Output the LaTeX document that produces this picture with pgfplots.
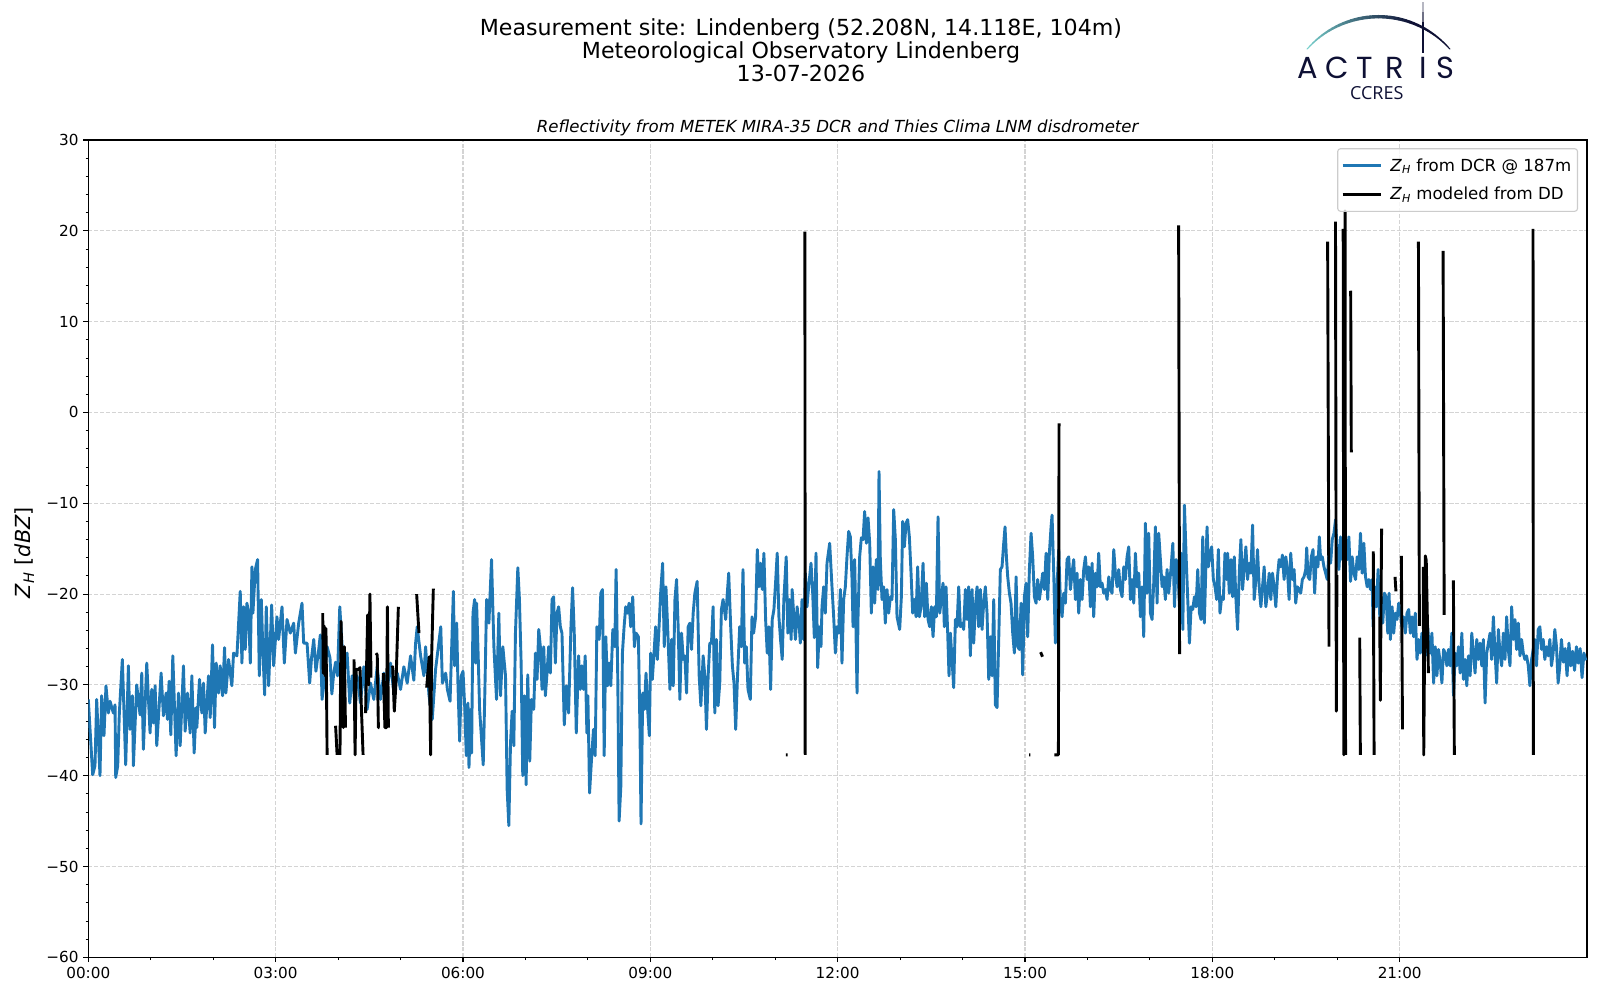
\documentclass[border=0pt]{standalone}
\usepackage{fontspec}
\setmainfont{DejaVu Sans}
\newfontfamily\logofont{Poppins}
\newfontfamily\ccresfont{Open Sans}
\usepackage{pgfplots}
\pgfplotsset{compat=1.18}
\usepackage{pgfplotstable}
\definecolor{mplblue}{RGB}{31,119,180}
\definecolor{gridgray}{RGB}{212,212,212}
\definecolor{logonavy}{RGB}{14,16,52}
\definecolor{logoteal}{RGB}{120,208,204}
\definecolor{legframe}{RGB}{204,204,204}

\pgfplotstableread{
h v
0 -31.6
0.07 -39.9
0.107 -38.9
0.134 -31.6
0.187 -40.0
0.214 -31.2
0.251 -35.6
0.283 -30.1
0.321 -33.1
0.348 -31.8
0.401 -33.1
0.428 -32.2
0.439 -40.2
0.471 -38.9
0.497 -33.1
0.545 -27.2
0.599 -38.8
0.642 -27.9
0.668 -34.9
0.706 -31.2
0.722 -38.9
0.775 -30.0
0.829 -33.3
0.856 -28.7
0.882 -37.1
0.936 -27.6
0.989 -35.3
1.016 -30.5
1.043 -34.2
1.07 -30.1
1.096 -36.7
1.166 -28.7
1.203 -33.4
1.246 -30.9
1.267 -33.8
1.294 -29.6
1.321 -35.5
1.353 -26.8
1.406 -37.8
1.444 -30.9
1.471 -36.7
1.524 -27.9
1.551 -35.1
1.588 -30.9
1.631 -35.3
1.658 -29.0
1.695 -37.5
1.727 -32.5
1.738 -34.7
1.781 -29.4
1.818 -33.1
1.845 -29.8
1.872 -35.3
1.925 -29.0
1.952 -33.6
1.989 -25.6
2.021 -34.7
2.048 -27.6
2.086 -30.9
2.112 -27.9
2.15 -31.2
2.182 -25.9
2.203 -30.9
2.246 -27.2
2.299 -30.1
2.326 -26.5
2.38 -26.8
2.433 -19.7
2.46 -27.6
2.487 -21.4
2.513 -26.1
2.54 -21.0
2.567 -22.1
2.594 -27.6
2.62 -17.0
2.636 -22.1
2.674 -17.3
2.711 -16.2
2.738 -29.0
2.77 -20.6
2.797 -26.5
2.824 -31.1
2.85 -21.4
2.888 -30.1
2.936 -21.2
2.968 -27.9
3.021 -22.5
3.048 -25.0
3.102 -21.4
3.139 -27.6
3.182 -22.8
3.235 -24.3
3.289 -23.2
3.316 -26.5
3.369 -23.2
3.422 -21.0
3.449 -25.4
3.503 -25.4
3.545 -29.8
3.575 -27.0
3.61 -25.0
3.645 -28.5
3.69 -26.1
3.715 -24.5
3.743 -31.6
3.78 -29.5
3.824 -25.8
3.87 -27.0
3.90 -31.0
3.93 -28.7
3.96 -27.5
3.99 -29.0
4.027 -21.4
4.091 -28.7
4.144 -26.5
4.187 -32.0
4.225 -29.0
4.262 -31.2
4.305 -29.0
4.358 -32.0
4.412 -28.0
4.465 -32.7
4.519 -29.8
4.572 -31.6
4.626 -28.0
4.679 -31.6
4.733 -28.7
4.786 -30.5
4.84 -27.6
4.893 -30.9
4.947 -28.7
5.0 -30.5
5.053 -28.0
5.107 -29.8
5.16 -26.8
5.213 -29.5
5.24 -25.5
5.267 -23.6
5.321 -26.8
5.374 -29.0
5.401 -25.8
5.455 -31.1
5.508 -33.8
5.561 -28.3
5.644 -23.6
5.67 -29.8
5.723 -28.7
5.75 -30.5
5.793 -31.8
5.846 -19.7
5.867 -27.9
5.899 -23.2
5.92 -30.1
5.947 -36.2
5.973 -29.0
6.0 -28.5
6.027 -32.3
6.053 -37.8
6.08 -32.0
6.096 -39.1
6.122 -32.7
6.138 -37.5
6.16 -22.1
6.186 -20.6
6.202 -27.6
6.218 -21.0
6.245 -27.2
6.266 -32.7
6.324 -38.8
6.351 -30.5
6.378 -20.6
6.415 -23.2
6.457 -16.2
6.495 -25.8
6.537 -31.6
6.574 -22.1
6.601 -31.2
6.638 -25.8
6.681 -29.0
6.707 -41.5
6.734 -45.5
6.761 -36.4
6.787 -32.9
6.814 -36.7
6.84 -24.3
6.878 -17.1
6.904 -20.6
6.931 -27.6
6.957 -40.0
6.984 -31.2
7.011 -41.0
7.037 -28.9
7.069 -38.4
7.096 -31.6
7.133 -32.7
7.16 -26.5
7.186 -29.4
7.213 -23.9
7.239 -25.8
7.266 -30.5
7.293 -25.8
7.319 -31.2
7.346 -28.7
7.372 -25.8
7.399 -28.7
7.426 -20.6
7.452 -20.3
7.479 -27.6
7.505 -22.1
7.532 -21.4
7.559 -23.6
7.585 -24.3
7.622 -34.4
7.654 -30.1
7.691 -33.1
7.729 -23.6
7.755 -19.3
7.782 -24.3
7.814 -35.3
7.851 -26.8
7.878 -30.5
7.904 -27.9
7.931 -30.5
7.957 -26.8
7.984 -35.3
8.0 -31.2
8.027 -41.9
8.064 -37.5
8.09 -34.9
8.117 -37.8
8.144 -23.6
8.181 -25.0
8.207 -19.9
8.234 -19.5
8.261 -37.8
8.287 -24.7
8.314 -30.1
8.34 -27.6
8.367 -30.1
8.399 -23.9
8.431 -25.8
8.452 -17.3
8.479 -29.4
8.5 -45.0
8.527 -41.3
8.553 -26.5
8.58 -23.6
8.606 -21.4
8.633 -22.1
8.66 -21.0
8.686 -23.6
8.718 -20.3
8.745 -25.8
8.771 -24.3
8.809 -24.7
8.835 -35.3
8.851 -45.3
8.878 -30.9
8.904 -32.7
8.931 -28.7
8.957 -32.7
8.984 -35.6
9.005 -26.5
9.032 -29.4
9.059 -26.5
9.085 -23.6
9.112 -27.2
9.138 -23.9
9.165 -19.9
9.197 -16.6
9.223 -25.8
9.25 -19.2
9.277 -23.6
9.314 -30.5
9.34 -25.0
9.367 -30.1
9.394 -20.6
9.42 -18.4
9.447 -23.9
9.473 -31.6
9.5 -24.3
9.527 -27.2
9.553 -26.8
9.58 -30.9
9.606 -23.6
9.633 -23.2
9.66 -26.1
9.686 -22.1
9.713 -19.9
9.75 -18.6
9.782 -29.0
9.809 -32.3
9.846 -26.8
9.872 -29.0
9.899 -34.9
9.926 -29.0
9.952 -25.4
9.979 -25.4
10.005 -21.4
10.032 -33.1
10.059 -25.0
10.085 -32.3
10.112 -29.8
10.138 -21.7
10.165 -20.6
10.207 -22.8
10.229 -20.3
10.255 -17.7
10.287 -23.6
10.314 -27.9
10.34 -29.8
10.367 -34.9
10.394 -29.4
10.431 -23.6
10.457 -25.8
10.484 -17.3
10.511 -27.6
10.537 -25.8
10.564 -30.5
10.601 -31.6
10.628 -22.5
10.654 -24.3
10.686 -22.5
10.713 -15.1
10.739 -19.2
10.766 -16.6
10.793 -19.5
10.819 -15.5
10.846 -22.8
10.872 -26.5
10.899 -23.6
10.926 -30.5
10.952 -22.8
10.979 -21.7
11.005 -18.8
11.032 -15.5
11.059 -22.5
11.085 -25.0
11.112 -27.2
11.138 -20.6
11.176 -15.9
11.202 -24.3
11.229 -20.6
11.255 -25.0
11.271 -19.5
11.298 -22.5
11.324 -25.0
11.351 -21.4
11.388 -23.9
11.402 -25.4
11.429 -20.6
11.455 -25.0
11.482 -17.7
11.509 -21.4
11.535 -19.2
11.573 -16.6
11.6 -19.9
11.626 -24.8
11.653 -15.5
11.68 -28.1
11.706 -23.6
11.733 -25.8
11.749 -21.4
11.776 -19.2
11.802 -22.1
11.829 -16.6
11.872 -14.4
11.909 -19.2
11.936 -22.5
11.963 -26.5
11.989 -23.6
12.016 -24.3
12.043 -19.5
12.069 -27.6
12.096 -20.6
12.123 -19.2
12.149 -15.9
12.176 -13.1
12.203 -13.7
12.23 -18.4
12.246 -23.6
12.272 -16.2
12.294 -24.3
12.31 -30.9
12.326 -22.5
12.352 -15.9
12.379 -13.8
12.406 -14.0
12.432 -10.9
12.459 -14.4
12.486 -11.6
12.513 -14.4
12.539 -22.1
12.566 -17.0
12.593 -21.0
12.619 -16.2
12.646 -19.5
12.662 -6.5
12.683 -16.2
12.71 -20.6
12.737 -19.2
12.763 -23.2
12.79 -19.5
12.817 -22.1
12.844 -20.3
12.87 -20.6
12.897 -10.7
12.924 -14.0
12.95 -22.5
12.993 -23.9
13.02 -20.3
13.041 -12.0
13.068 -14.8
13.095 -12.2
13.121 -11.8
13.148 -13.7
13.175 -17.7
13.201 -22.1
13.228 -20.6
13.255 -22.5
13.281 -17.0
13.308 -22.5
13.335 -21.4
13.367 -16.6
13.393 -22.5
13.42 -18.8
13.447 -22.8
13.474 -23.6
13.5 -21.4
13.527 -24.7
13.554 -21.4
13.58 -22.5
13.607 -11.5
13.634 -22.1
13.66 -20.6
13.687 -18.8
13.708 -23.6
13.735 -19.2
13.762 -24.3
13.783 -29.0
13.805 -24.3
13.831 -27.2
13.858 -30.3
13.885 -22.8
13.911 -23.6
13.938 -19.2
13.965 -23.6
13.991 -23.2
14.018 -23.9
14.045 -19.5
14.072 -22.8
14.098 -19.2
14.125 -26.8
14.152 -19.5
14.178 -25.4
14.205 -21.4
14.232 -19.2
14.258 -23.6
14.285 -19.5
14.312 -23.9
14.338 -21.0
14.365 -19.2
14.392 -22.1
14.419 -29.4
14.445 -24.7
14.472 -29.0
14.499 -20.6
14.525 -32.2
14.552 -32.5
14.579 -25.0
14.605 -17.3
14.632 -17.0
14.659 -14.4
14.68 -12.6
14.702 -15.9
14.723 -18.1
14.75 -19.9
14.776 -21.0
14.803 -24.3
14.83 -26.5
14.857 -18.1
14.883 -25.8
14.91 -26.1
14.937 -21.0
14.963 -28.9
14.99 -20.3
15.017 -18.8
15.043 -24.7
15.07 -17.3
15.097 -13.3
15.123 -15.9
15.15 -20.3
15.177 -21.0
15.203 -18.4
15.23 -20.6
15.257 -19.2
15.283 -17.7
15.31 -19.5
15.337 -15.5
15.364 -20.6
15.39 -15.5
15.417 -12.6
15.433 -11.3
15.46 -17.7
15.486 -25.4
15.513 -19.2
15.54 -15.1
15.566 -20.6
15.593 -22.5
15.62 -19.9
15.647 -21.0
15.673 -16.2
15.7 -15.9
15.727 -19.5
15.753 -17.7
15.78 -16.2
15.807 -20.6
15.833 -17.7
15.86 -22.1
15.887 -18.4
15.914 -20.6
15.94 -17.3
15.967 -15.9
15.994 -18.4
16.02 -17.0
16.047 -21.4
16.074 -16.6
16.1 -22.5
16.127 -17.7
16.154 -19.2
16.18 -15.5
16.207 -19.2
16.234 -18.8
16.26 -19.9
16.287 -19.5
16.314 -20.6
16.341 -18.1
16.367 -19.5
16.394 -19.9
16.421 -15.1
16.447 -17.7
16.474 -19.2
16.501 -17.3
16.527 -19.5
16.554 -20.3
16.581 -17.0
16.607 -18.4
16.634 -15.9
16.661 -14.8
16.688 -20.6
16.714 -18.4
16.741 -21.0
16.768 -15.5
16.794 -19.2
16.821 -17.7
16.848 -22.5
16.874 -19.2
16.901 -24.7
16.928 -12.2
16.955 -19.9
16.981 -13.3
17.008 -22.1
17.035 -22.8
17.061 -18.8
17.088 -12.6
17.115 -21.0
17.141 -13.3
17.168 -16.2
17.195 -19.2
17.221 -18.1
17.248 -20.6
17.275 -17.3
17.301 -19.9
17.34 -17.0
17.367 -14.4
17.394 -21.4
17.42 -16.2
17.447 -17.0
17.473 -21.4
17.5 -15.5
17.527 -23.9
17.553 -10.2
17.58 -15.9
17.606 -20.6
17.633 -25.4
17.66 -21.4
17.686 -21.7
17.713 -20.3
17.739 -21.4
17.766 -17.3
17.793 -22.1
17.819 -22.8
17.846 -13.7
17.872 -23.2
17.899 -16.2
17.915 -12.6
17.936 -17.0
17.963 -15.5
17.989 -14.8
18.016 -18.4
18.043 -19.2
18.069 -20.6
18.096 -15.1
18.122 -22.1
18.149 -20.3
18.176 -20.6
18.202 -15.5
18.229 -18.4
18.245 -15.5
18.271 -19.9
18.298 -16.2
18.324 -20.3
18.351 -15.9
18.378 -20.6
18.404 -23.9
18.431 -17.7
18.457 -14.0
18.484 -19.5
18.511 -17.0
18.537 -14.8
18.564 -18.4
18.59 -16.6
18.617 -17.7
18.644 -12.4
18.67 -20.6
18.697 -18.4
18.723 -15.1
18.75 -19.2
18.777 -21.4
18.803 -19.2
18.83 -17.0
18.856 -21.4
18.883 -19.9
18.91 -17.7
18.936 -20.6
18.963 -17.7
18.989 -19.2
19.016 -21.4
19.043 -18.1
19.069 -16.2
19.096 -17.0
19.122 -15.7
19.149 -18.4
19.176 -15.9
19.202 -17.3
19.229 -20.6
19.255 -15.5
19.282 -18.4
19.309 -17.3
19.335 -21.0
19.362 -19.2
19.388 -19.5
19.415 -19.9
19.441 -18.4
19.468 -18.1
19.495 -17.3
19.511 -14.9
19.532 -18.1
19.559 -18.4
19.585 -15.9
19.612 -15.1
19.638 -19.9
19.665 -15.9
19.691 -17.0
19.713 -13.7
19.734 -16.2
19.761 -15.9
19.787 -17.0
19.814 -17.7
19.84 -18.4
19.867 -15.5
19.894 -16.6
19.92 -14.0
19.947 -13.3
19.973 -11.8
20.0 -15.5
20.027 -17.3
20.053 -13.7
20.08 -16.2
20.106 -12.9
20.133 -14.8
20.16 -16.2
20.186 -13.7
20.213 -18.6
20.239 -15.9
20.266 -17.7
20.293 -18.4
20.319 -15.9
20.346 -17.3
20.372 -13.3
20.399 -17.7
20.426 -14.4
20.452 -18.1
20.479 -19.2
20.505 -18.4
20.532 -19.5
20.559 -18.4
20.574 -23.6
20.601 -19.2
20.628 -21.4
20.654 -17.3
20.681 -22.5
20.702 -20.3
20.729 -23.2
20.755 -19.9
20.782 -20.3
20.809 -24.3
20.83 -19.9
20.851 -25.0
20.878 -21.4
20.904 -24.3
20.931 -22.1
20.957 -22.8
20.984 -21.0
21.011 -22.1
21.037 -23.6
21.064 -22.5
21.09 -24.3
21.117 -22.1
21.144 -21.7
21.17 -24.3
21.197 -22.5
21.223 -24.7
21.25 -22.1
21.277 -27.2
21.303 -25.0
21.33 -26.5
21.356 -24.3
21.383 -25.4
21.41 -26.8
21.436 -22.5
21.463 -25.0
21.489 -26.5
21.516 -24.3
21.543 -29.8
21.569 -25.8
21.596 -29.0
21.622 -26.1
21.649 -27.6
21.676 -29.8
21.702 -26.1
21.729 -26.5
21.755 -27.9
21.782 -26.1
21.809 -27.9
21.835 -24.3
21.862 -31.2
21.888 -26.5
21.915 -27.9
21.941 -25.8
21.968 -28.7
21.995 -24.3
22.021 -29.4
22.048 -27.2
22.074 -30.1
22.101 -26.8
22.128 -29.0
22.154 -24.3
22.181 -26.5
22.207 -28.7
22.234 -25.0
22.261 -27.2
22.287 -25.4
22.314 -27.9
22.34 -25.0
22.367 -32.0
22.394 -26.5
22.42 -25.4
22.447 -24.3
22.473 -27.2
22.5 -22.5
22.527 -26.5
22.553 -29.8
22.58 -23.9
22.606 -26.5
22.633 -27.9
22.66 -24.3
22.686 -27.2
22.713 -22.5
22.739 -26.1
22.766 -27.9
22.793 -21.4
22.819 -25.0
22.846 -22.8
22.872 -26.1
22.899 -23.2
22.926 -26.8
22.952 -25.0
22.979 -26.5
23.005 -27.2
23.032 -26.8
23.059 -27.9
23.085 -30.1
23.112 -27.2
23.138 -26.1
23.165 -25.0
23.191 -27.9
23.218 -23.9
23.245 -23.6
23.271 -26.1
23.298 -25.0
23.324 -27.2
23.351 -25.8
23.378 -26.8
23.404 -25.0
23.431 -27.9
23.457 -26.5
23.484 -23.9
23.511 -25.8
23.537 -29.8
23.56 -28.2
23.59 -25.0
23.62 -27.5
23.65 -26.0
23.68 -29.0
23.71 -25.4
23.74 -27.9
23.77 -26.3
23.80 -28.4
23.83 -25.8
23.86 -27.6
23.89 -26.0
23.92 -29.2
23.95 -26.5
23.98 -27.3
}\dcr

\pgfplotstableread{
h v
3.754 -22.1
3.762 -28.7
3.775 -23.5
3.792 -29.0
3.806 -23.8
3.824 -37.7
3.83 nan
3.96 -34.5
3.984 -37.7
3.99 nan
4.03 -37.7
4.047 -23.0
4.084 -34.7
4.10 -25.8
4.118 -34.7
4.12 nan
4.255 -27.2
4.272 -37.7
4.29 -28.3
4.33 -28.3
4.35 -28.1
4.40 -37.7
4.41 nan
4.44 -33.1
4.474 -22.3
4.49 -30.0
4.51 -20.0
4.527 -29.2
4.53 nan
4.607 -26.5
4.627 -26.7
4.645 -34.7
4.66 -34.7
4.67 nan
4.724 -28.7
4.75 -34.7
4.775 -34.7
4.79 -21.4
4.805 -34.7
4.81 nan
4.858 -28.1
4.874 -28.0
4.90 -32.9
4.927 -29.8
4.965 -21.4
4.97 nan
5.258 -20.0
5.295 -24.3
5.30 nan
5.418 -30.3
5.46 -26.9
5.482 -37.7
5.498 -26.9
5.525 -19.4
5.53 nan
11.17 -37.7
11.20 -37.7
11.21 nan
11.475 19.9
11.48 -37.7
11.49 nan
15.065 -37.7
15.085 -37.7
15.09 nan
15.25 -26.4
15.28 -26.9
15.29 nan
15.47 -37.7
15.535 -37.7
15.545 -1.2
15.55 nan
17.46 20.6
17.475 -26.6
17.48 nan
19.846 18.8
19.868 -25.8
19.87 nan
19.972 21.0
19.985 -32.9
19.995 -17.9
20.00 nan
20.095 20.2
20.105 -37.7
20.125 22.2
20.133 -37.7
20.14 nan
20.215 13.4
20.225 -4.4
20.23 nan
20.36 -24.8
20.37 -37.7
20.38 nan
20.577 -15.3
20.59 -37.7
20.60 nan
20.68 -22.5
20.69 -31.7
20.71 -12.8
20.72 nan
20.925 -18.1
20.94 -19.7
20.95 nan
21.027 -15.8
21.045 -34.9
21.05 nan
21.30 18.8
21.315 -23.5
21.32 nan
21.378 -17.0
21.385 -37.7
21.41 -15.8
21.425 -16.3
21.46 -28.7
21.47 nan
21.695 17.8
21.712 -22.3
21.72 nan
21.86 -18.5
21.875 -37.7
21.88 nan
23.135 20.2
23.14 -37.7
}\dd

\begin{document}
\begin{tikzpicture}
\begin{scope}[x=0.72bp,y=-0.72bp,yshift=720bp]
\path[use as bounding box] (0,0) rectangle (1600,1000);
\end{scope}
\begin{axis}[
  at={(63.58bp,30.74bp)}, anchor=south west,
  scale only axis, width=1079.06bp, height=588.46bp,
  xmin=0, xmax=24, ymin=-60, ymax=30,
  xtick={0,3,6,9,12,15,18,21},
  xticklabels={00:00,03:00,06:00,09:00,12:00,15:00,18:00,21:00},
  minor x tick num=2,
  ytick={-60,-50,-40,-30,-20,-10,0,10,20,30},
  yticklabels={−60,−50,−40,−30,−20,−10,0,10,20,30},
  minor y tick num=4,
  tick align=outside, tick pos=left,
  major tick length=3.5pt, minor tick length=2pt,
  every tick/.style={black, line width=0.8pt},
  minor tick style={line width=0.6pt},
  axis line style={line width=0.8pt},
  grid=major,
  major grid style={gridgray, dash pattern=on 2.96pt off 1.28pt, line width=0.8pt},
  ticklabel style={font=\fontsize{11}{13}\selectfont},
  legend cell align=left,
  legend style={at={(0.994,0.990)}, anchor=north east, draw=legframe, line width=0.8pt,
    rounded corners=2pt, fill=white, fill opacity=0.8, text opacity=1,
    font=\fontsize{12}{14}\selectfont, inner xsep=2.5pt, inner ysep=5pt, row sep=6pt,
    /tikz/every odd column/.append style={column sep=3.5pt}},
  legend image code/.code={\draw[#1] (0pt,0pt) -- (28pt,0pt);},
]
\addplot[mplblue, line width=2.1pt, line join=round] table[x=h,y=v]{\dcr};
\addlegendentry{\textit{Z}\textsubscript{\textit{H}} from DCR @ 187m}
\addplot[black, line width=2.1pt, line join=round, unbounded coords=jump] table[x=h,y=v]{\dd};
\addlegendentry{\textit{Z}\textsubscript{\textit{H}} modeled from DD}
\end{axis}
\begin{scope}[x=0.72bp,y=-0.72bp,yshift=720bp]
\node[anchor=base, inner sep=0, font=\fontsize{16}{19}\selectfont] at (801,36) {Measurement site: Lindenberg (52.208N, 14.118E, 104m)};
\node[anchor=base, inner sep=0, font=\fontsize{16}{19}\selectfont] at (801,59) {Meteorological Observatory Lindenberg};
\node[anchor=base, inner sep=0, font=\fontsize{16}{19}\selectfont] at (801,81.5) {13-07-2026};
\node[anchor=base, inner sep=0, font=\fontsize{12}{14}\selectfont\itshape] at (837.7,132.3) {Reflectivity from METEK MIRA-35 DCR and Thies Clima LNM disdrometer};
\node[rotate=90, inner sep=0, font=\fontsize{15}{18}\selectfont] at (24.5,552.5) {\textit{Z}\textsubscript{\textit{H}} [\textit{dBZ}]};
% logo
\foreach \i in {0,...,39} {
  \pgfmathsetmacro\aa{138.8-\i*2.44}
  \pgfmathsetmacro\bb{138.8-(\i+1)*2.44}
  \pgfmathsetmacro\cc{max(0,100-\i*100/28)}
  \pgfmathsetmacro\ww{(1.0+2.4*sin(180*(\i+0.5)/40))*0.72}
  \draw[logoteal!\cc!logonavy, line width=\ww bp, line cap=round]
    ({1378.5+94.9*cos(\aa)},{111.6-94.9*sin(\aa)}) -- ({1378.5+94.9*cos(\bb)},{111.6-94.9*sin(\bb)});
}
\draw[logonavy, line width=1.6bp] (1423.3,53) -- (1423.3,22);
\draw[logonavy, opacity=0.6, line width=1.6bp] (1423.3,22) -- (1423.3,12);
\draw[logonavy, opacity=0.3, line width=1.6bp] (1423.3,12) -- (1423.3,2);
\foreach \x/\l in {1307.3/A,1337.3/C,1365/T,1395/R,1423.3/I,1445.7/S}
  \node[anchor=base, inner sep=0, text=logonavy, font=\logofont\fontsize{22}{24}\selectfont] at (\x,78.3) {\l};
\node[anchor=base, inner sep=0, text=logonavy, font=\ccresfont\fontsize{13}{15}\selectfont] at (1376.7,99.5) {CCRES};
\end{scope}
\end{tikzpicture}
\end{document}
